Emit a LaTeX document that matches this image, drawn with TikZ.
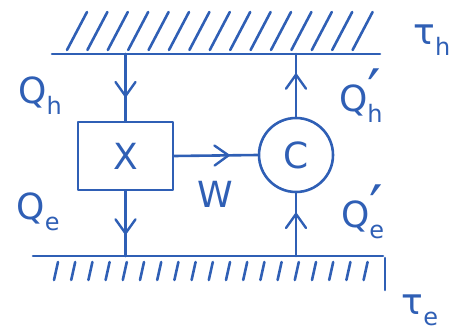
\documentclass[tikz,border=0pt]{standalone}
\usepackage{fontspec}
\setmainfont{DejaVu Sans}
\usetikzlibrary{decorations.markings}
\definecolor{ink}{HTML}{2F5FB5}
% subscript and primed subscript for the heat labels
\newcommand\sbs[1]{\raisebox{-0.3em}{\fontsize{24}{24}\selectfont #1}}
\newcommand\sbp[1]{\rlap{\raisebox{-0.3em}{\fontsize{24}{24}\selectfont #1}}\raisebox{-1pt}{\fontsize{60}{60}\selectfont ′}}

\begin{document}
\begin{tikzpicture}[x=1pt,y=-1pt,ink,line width=2.6pt,line cap=round,line join=round,
  every node/.style={text=ink,font=\fontsize{36}{38}\selectfont},
  flow/.style={postaction={decorate},decoration={markings,
      mark=at position #1 with {\draw[line width=2.4pt] (-14pt,10pt) -- (0pt,0pt) -- (-14pt,-10pt);}}},
  flow/.default=0.6,
  engine/.style={draw=ink,minimum width=95pt,minimum height=68pt,inner sep=0pt},
  pump/.style={draw=ink,circle,minimum size=74pt,inner sep=0pt},
  label/.style={inner sep=0pt}]
\useasboundingbox (0,0) rectangle (457,331);

% hot reservoir
\coordinate (hotL) at (52,54);
\coordinate (hotR) at (380,54);
\draw (hotL) -- (hotR);
\foreach \i in {0,...,14}
  \draw (67+20.4*\i,50) -- ++(20,-38);
\node[label] (th) at (432,40) {τ\sbs{h}};

% cold reservoir
\coordinate (coldL) at (33,256);
\coordinate (coldR) at (383,256);
\draw (coldL) -- (coldR);
\foreach \i in {0,...,18}
  \draw (58+17.2*\i,262) -- ++(-4,18);
\draw (385,258) -- (385,290);
\node[label] (te) at (420,310) {τ\sbs{e}};

% engine and pump
\node[engine] (X) at (125.5,156) {X};
\node[pump] (C) at (296,155) {C};

% heat and work flows
\draw[flow=0.63] (X.north |- hotL) -- (X.north);
\draw[flow=0.65] (X.south) -- (X.south |- coldL);
\draw[flow=0.67] (C.north) -- (C.north |- hotL);
\draw[flow=0.67] (C.south |- coldL) -- (C.south);
\draw[flow=0.65] (X.east) -- (C.west);

% labels
\node[label] (qh) at (40,96) {Q\sbs{h}};
\node[label] (qhp) at (360,96) {Q\sbp{h}};
\node[label] (qe) at (38,212) {Q\sbs{e}};
\node[label] (qep) at (362,212) {Q\sbp{e}};
\node[label] (w) at (215,194) {W};
\end{tikzpicture}
\end{document}
